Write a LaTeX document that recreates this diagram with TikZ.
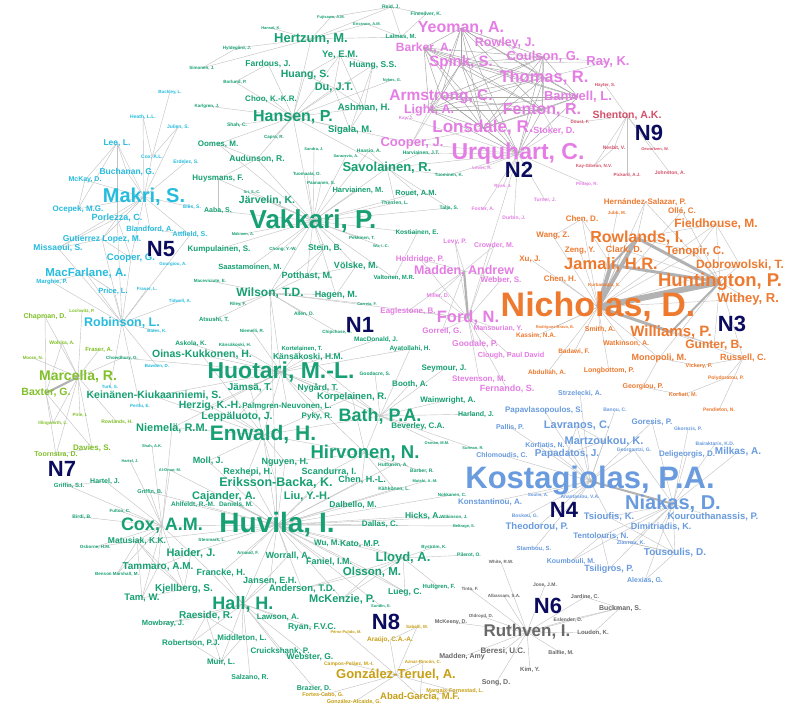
\documentclass[tikz,border=0pt]{standalone}
\usepackage{fontspec}
\setmainfont{Liberation Sans}
\definecolor{cA}{RGB}{22,160,115}
\definecolor{cB}{RGB}{228,125,228}
\definecolor{cC}{RGB}{238,122,48}
\definecolor{cD}{RGB}{105,155,222}
\definecolor{cE}{RGB}{38,188,222}
\definecolor{cF}{RGB}{105,105,105}
\definecolor{cG}{RGB}{128,192,40}
\definecolor{cH}{RGB}{200,160,20}
\definecolor{cI}{RGB}{212,80,105}
\definecolor{cN}{RGB}{12,12,95}
\pgfdeclarelayer{bg}
\pgfdeclarelayer{edges}
\pgfsetlayers{bg,edges,main}
\tikzset{
  lab/.style={inner sep=0pt,outer sep=0pt,anchor=center},
  lnk/.style={draw=black!24,line width=0.42pt},
  dlnk/.style={draw=black!36,line width=0.45pt},
  hvy/.style={draw=black!30,line width=#1},
  ntag/.style={inner sep=0pt,text=cN,font=\fontsize{22}{22}\selectfont\bfseries}
}
\newcommand\nd[6]{\node[lab,text=#1,font=\fontsize{#5}{#5}\selectfont\bfseries] (#2) at (#3,#4) {#6};}
\begin{document}
\begin{tikzpicture}[x=1pt,y=-1pt]
\useasboundingbox (0,0) rectangle (791,706);
\begin{pgfonlayer}{bg}
\fill[white] (0,0) rectangle (791,706);
\end{pgfonlayer}
% ---------------- green cluster N1
\nd{cA}{reid}{391}{7}{5}{Reid, J.}
\nd{cA}{finesilver}{426}{14}{5}{Finesilver, K.}
\nd{cA}{fujisawa}{331}{17}{4}{Fujisawa, A.M.}
\nd{cA}{ericsson}{367}{24}{4}{Ericsson, A.M.}
\nd{cA}{lalmas}{401}{37}{6}{Lalmas, M.}
\nd{cA}{harrer}{271}{28}{4}{Hansel, K.}
\nd{cA}{hertzum}{311}{39}{13}{Hertzum, M.}
\nd{cA}{hyldegard}{237}{48}{4.5}{Hyldegård, J.}
\nd{cA}{simonen}{202}{68}{4.5}{Simonen, J.}
\nd{cA}{fardous}{268}{64}{8.5}{Fardous, J.}
\nd{cA}{ye}{340}{55}{9.5}{Ye, E.M.}
\nd{cA}{huangss}{373}{65}{8.5}{Huang, S.S.}
\nd{cA}{nykes}{392}{80}{4}{Nykes, G.}
\nd{cA}{borlund}{235}{82}{4.5}{Borlund, P.}
\nd{cA}{huangs}{305}{75}{10.5}{Huang, S.}
\nd{cA}{du}{334}{88}{11}{Du, J.T.}
\nd{cA}{choo}{271}{99}{8}{Choo, K.-K.R.}
\nd{cA}{karlgren}{207}{106}{4.5}{Karlgren, J.}
\nd{cA}{ashman}{364}{108}{9.5}{Ashman, H.}
\nd{cA}{hansen}{293}{117}{16}{Hansen, P.}
\nd{cA}{shah}{237}{125}{5}{Shah, C.}
\nd{cA}{sigala}{350}{130}{9.5}{Sigala, M.}
\nd{cA}{capra}{274}{137}{4.5}{Capra, R.}
\nd{cA}{oomes}{218}{144}{8}{Oomes, M.}
\nd{cA}{sandra}{314}{149}{4}{Sandra, J.}
\nd{cA}{haasio}{369}{151}{5}{Haasio, A.}
\nd{cA}{saracevic}{346}{156}{4}{Saracevic, A.}
\nd{cA}{harviainenjt}{421}{153}{5}{Harviainen, J.T.}
\nd{cA}{audunson}{257}{159}{8.5}{Audunson, R.}
\nd{cA}{savolainen}{387}{168}{13}{Savolainen, R.}
\nd{cA}{tuominen}{449}{175}{4.5}{Tuominen, K.}
\nd{cA}{tuomaala}{307}{174}{4.5}{Tuomaala, O.}
\nd{cA}{huysmans}{218}{179}{8}{Huysmans, F.}
\nd{cA}{paananen}{321}{183}{4.5}{Paananen, S.}
\nd{cA}{harviainenm}{358}{190}{7.5}{Harviainen, M.}
\nd{cA}{rouet}{416}{193}{7.5}{Rouet, A.M.}
\nd{cA}{sri}{252}{192}{4}{Sri, S.-C.}
\nd{cA}{jarvelin}{267}{201}{10.5}{Järvelin, K.}
\nd{cA}{therrien}{395}{203}{5}{Therrien, L.}
\nd{cA}{talja}{449}{208}{5}{Talja, S.}
\nd{cA}{aaba}{218}{211}{7}{Aaba, S.}
\nd{cA}{vakkari}{313}{221}{26}{Vakkari, P.}
\nd{cA}{makinen}{243}{234}{4}{Mäkinen, A.}
\nd{cA}{pekkinen}{362}{238}{4.5}{Pekkinen, T.}
\nd{cA}{kostiainen}{417}{233}{6.5}{Kostiainen, E.}
\nd{cA}{wuic}{381}{246}{4}{Wu, I.-C.}
\nd{cA}{chong}{283}{249}{4.5}{Chong, Y.-W.}
\nd{cA}{stein}{325}{248}{8.5}{Stein, B.}
\nd{cA}{kumpulainen}{219}{249}{8}{Kumpulainen, S.}
\nd{cA}{volske}{356}{266}{9}{Völske, M.}
\nd{cA}{saastamoinen}{250}{267}{7.5}{Saastamoinen, M.}
\nd{cA}{potthast}{307}{276}{9}{Potthast, M.}
\nd{cA}{valtonen}{394}{278}{6}{Valtonen, M.R.}
\nd{cA}{maceviciute}{210}{281}{4.5}{Maceviciute, E.}
\nd{cA}{wilson}{270}{293}{12}{Wilson, T.D.}
\nd{cA}{hagen}{336}{295}{9}{Hagen, M.}
\nd{cA}{correia}{367}{304}{4}{Correia, F.}
\nd{cA}{riley}{238}{304}{4.5}{Riley, F.}
\nd{cA}{allen}{304}{314}{5}{Allen, D.}
\nd{cA}{atsushi}{214}{320}{6}{Atsushi, T.}
\nd{cA}{nimelli}{252}{331}{4.5}{Niemelli, R.}
\nd{cA}{chipchase}{337}{332}{4.5}{Chipchase, S.}
\nd{cA}{macdonald}{376}{340}{6.5}{MacDonald, J.}
\nd{cA}{askola}{191}{344}{6.5}{Askola, K.}
\nd{cA}{kansakoskih}{235}{345}{4.5}{Känsäkoski, H.}
\nd{cA}{kortelainen}{302}{349}{6}{Kortelainen, T.}
\nd{cA}{ayatollahi}{410}{349}{6.5}{Ayatollahi, H.}
\nd{cA}{oinas}{202}{355}{10.5}{Oinas-Kukkonen, H.}
\nd{cA}{kansakoskihm}{308}{357}{8.5}{Känsäkoski, H.M.}
\nd{cA}{chowdhury}{122}{358}{4.5}{Chowdhury, G.}
\nd{cA}{huotari}{281}{372}{23}{Huotari, M.-L.}
\nd{cA}{goodacre}{375}{374}{5}{Goodacre, S.}
\nd{cA}{seymour}{444}{369}{8}{Seymour, J.}
\nd{cA}{booth}{410}{384}{8}{Booth, A.}
\nd{cA}{nygard}{318}{388}{8.5}{Nygård, T.}
\nd{cA}{jamsa}{250}{388}{10}{Jämsä, T.}
\nd{cA}{keinanen}{154}{396}{10.5}{Keinänen-Kiukaanniemi, S.}
\nd{cA}{korpelainen}{352}{397}{9.5}{Korpelainen, R.}
\nd{cA}{wainwright}{448}{400}{8}{Wainwright, A.}
\nd{cA}{herzig}{210}{406}{10.5}{Herzig, K.-H.}
\nd{cA}{palmgren}{287}{406}{8}{Palmgren-Neuvonen, L.}
\nd{cA}{harland}{476}{414}{7}{Harland, J.}
\nd{cA}{pyky}{317}{416}{8}{Pyky, R.}
\nd{cA}{leppaluoto}{237}{417}{10.5}{Leppäluoto, J.}
\nd{cA}{bath}{380}{416}{18}{Bath, P.A.}
\nd{cA}{beverley}{418}{426}{8}{Beverley, C.A.}
\nd{cA}{niemela}{172}{428}{11}{Niemelä, R.M.}
\nd{cA}{enwald}{263}{435}{21}{Enwald, H.}
\nd{cA}{shahak}{152}{446}{4}{Shah, A.K.}
\nd{cA}{osman}{437}{443}{4}{Osman, M.M.}
\nd{cA}{surman}{473}{448}{4}{Surman, R.}
\nd{cA}{hirvonen}{365}{453}{18.5}{Hirvonen, N.}
\nd{cA}{hartela}{130}{461}{4}{Hartel, J.}
\nd{cA}{moll}{208}{461}{9}{Moll, J.}
\nd{cA}{alomar}{170}{470}{4}{Al-Omar, M.}
\nd{cA}{nguyen}{285}{462}{9}{Nguyen, H.}
\nd{cA}{huttunen}{393}{465}{5}{Huttunen, A.}
\nd{cA}{rexhepi}{248}{472}{9}{Rexhepi, H.}
\nd{cA}{scandurra}{329}{472}{9}{Scandurra, I.}
\nd{cA}{barber}{422}{471}{5}{Barber, R.}
\nd{cA}{hartelb}{105}{481}{7}{Hartel, J.}
\nd{cA}{erikssonbacka}{276}{483}{12.5}{Eriksson-Backa, K.}
\nd{cA}{chenhl}{362}{480}{9}{Chen, H.-L.}
\nd{cA}{mutshi}{425}{481}{4}{Mutshi, A.-M.}
\nd{cA}{griffinsi}{69}{486}{6}{Griffin, S.I.}
\nd{cA}{griffinb}{150}{492}{5.5}{Griffin, B.}
\nd{cA}{kahkonen}{394}{489}{5}{Kähkönen, L.}
\nd{cA}{cajander}{224}{497}{11}{Cajander, A.}
\nd{cA}{liu}{307}{496}{11}{Liu, Y.-H.}
\nd{cA}{nokkanen}{452}{495}{4.5}{Nokkanen, C.}
\nd{cA}{ahlfeldt}{193}{505}{6.5}{Ahlfeldt, R.-M.}
\nd{cA}{daniels}{236}{505}{6.5}{Daniels, M.}
\nd{cA}{dalbello}{353}{505}{8.5}{Dalbello, M.}
\nd{cA}{fulton}{120}{511}{4.5}{Fulton, C.}
\nd{cA}{birdi}{82}{517}{5}{Birdi, B.}
\nd{cA}{hicks}{423}{516}{8.5}{Hicks, A.}
\nd{cA}{wilkinson}{454}{517}{4.5}{Wilkinson, J.}
\nd{cA}{dallas}{380}{524}{8}{Dallas, C.}
\nd{cA}{beltrage}{464}{526}{4}{Beltrage, S.}
\nd{cA}{cox}{162}{526}{18}{Cox, A.M.}
\nd{cA}{huvila}{277}{525}{28}{Huvila, I.}
\nd{cA}{matusiak}{137}{541}{8.5}{Matusiak, K.K.}
\nd{cA}{osborne}{95}{547}{4.5}{Osborne, H.M.}
\nd{cA}{stenmark}{212}{540}{4.5}{Stenmark, L.}
\nd{cA}{wum}{327}{543}{8}{Wu, M.}
\nd{cA}{kato}{360}{544}{8.5}{Kato, M.P.}
\nd{cA}{bystrom}{434}{547}{4.5}{Byström, K.}
\nd{cA}{haider}{191}{553}{11}{Haider, J.}
\nd{cA}{arnaud}{248}{553}{4.5}{Arnaud, F.}
\nd{cA}{pilerot}{469}{555}{5}{Pilerot, O.}
\nd{cA}{worrall}{288}{556}{9}{Worrall, A.}
\nd{cA}{lloyd}{403}{558}{13}{Lloyd, A.}
\nd{cA}{faniel}{329}{562}{9}{Faniel, I.M.}
\nd{cA}{tammaro}{158}{567}{10}{Tammaro, A.M.}
\nd{cA}{olsson}{372}{572}{11.5}{Olsson, M.}
\nd{cA}{bensonmarshall}{117}{574}{4.5}{Benson Marshall, M.}
\nd{cA}{francke}{221}{573}{9}{Francke, H.}
\nd{cA}{jansen}{270}{581}{9}{Jansen, E.H.}
\nd{cA}{hultgren}{439}{587}{6}{Hultgren, F.}
\nd{cA}{anderson}{302}{589}{9.5}{Anderson, T.D.}
\nd{cA}{kjellberg}{184}{589}{10}{Kjellberg, S.}
\nd{cA}{lueg}{405}{592}{8.5}{Lueg, C.}
\nd{cA}{tam}{142}{598}{9.5}{Tam, W.}
\nd{cA}{mckenzie}{342}{599}{11}{McKenzie, P.}
\nd{cA}{sundin}{381}{606}{4}{Sundin, E.}
\nd{cA}{hall}{243}{604}{18}{Hall, H.}
\nd{cA}{raeside}{206}{616}{10}{Raeside, R.}
\nd{cA}{lawson}{278}{617}{8}{Lawson, A.}
\nd{cA}{mowbray}{163}{624}{7.5}{Mowbray, J.}
\nd{cA}{ryanfvc}{312}{627}{8.5}{Ryan, F.V.C.}
\nd{cA}{middleton}{242}{638}{8}{Middleton, L.}
\nd{cA}{robertson}{191}{643}{8}{Robertson, P.J.}
\nd{cA}{cruickshank}{280}{651}{8}{Cruickshank, P.}
\nd{cA}{webster}{310}{657}{8.5}{Webster, G.}
\nd{cA}{muir}{221}{662}{8}{Muir, L.}
\nd{cA}{salzano}{250}{677}{7}{Salzano, R.}
\nd{cA}{brazier}{314}{688}{7}{Brazier, D.}
% ---------------- pink cluster N2
\nd{cB}{yeoman}{461}{28}{16}{Yeoman, A.}
\nd{cB}{barker}{424}{48}{12}{Barker, A.}
\nd{cB}{rowley}{505}{43}{12.5}{Rowley, J.}
\nd{cB}{spink}{461}{63}{15}{Spink, S.}
\nd{cB}{coulson}{543}{57}{13}{Coulson, G.}
\nd{cB}{ray}{608}{62}{13}{Ray, K.}
\nd{cB}{thomas}{544}{78}{16.5}{Thomas, R.}
\nd{cB}{banwell}{578}{97}{13}{Banwell, L.}
\nd{cB}{armstrong}{441}{97}{15.5}{Armstrong, C.}
\nd{cB}{fenton}{542}{110}{16}{Fenton, R.}
\nd{cB}{light}{429}{110}{12.5}{Light, A.}
\nd{cB}{kay}{406}{118}{4.5}{Kay, J.}
\nd{cB}{lonsdale}{483}{128}{17}{Lonsdale, R.}
\nd{cB}{stoker}{554}{131}{9}{Stoker, D.}
\nd{cB}{urquhart}{518}{154}{23}{Urquhart, C.}
\nd{cB}{cooperj}{412}{143}{13}{Cooper, J.}
\nd{cB}{lewis}{482}{168}{4.5}{Lewis, R.}
\nd{cB}{ryanj}{503}{186}{4.5}{Ryan, J.}
\nd{cB}{pihlajo}{587}{184}{4.5}{Pihlajo, R.}
\nd{cB}{turner}{545}{200}{5}{Turner, J.}
\nd{cB}{foster}{483}{209}{5}{Foster, A.}
\nd{cB}{durbin}{514}{218}{5}{Durbin, J.}
\nd{cB}{levy}{455}{242}{6.5}{Levy, P.}
\nd{cB}{crowder}{494}{246}{7}{Crowder, M.}
\nd{cB}{holdridge}{420}{259}{8}{Holdridge, P.}
\nd{cB}{madden}{464}{271}{12.5}{Madden, Andrew}
\nd{cB}{webber}{501}{280}{8}{Webber, S.}
\nd{cB}{miller}{438}{296}{5.5}{Miller, D.}
\nd{cB}{eaglestone}{408}{311}{8}{Eaglestone, B.}
\nd{cB}{ford}{468}{318}{16.5}{Ford, N.}
\nd{cB}{mansourian}{498}{329}{7}{Mansourian, Y.}
\nd{cB}{gorrell}{442}{331}{8}{Gorrell, G.}
\nd{cB}{goodale}{475}{344}{8.5}{Goodale, P.}
\nd{cB}{clough}{511}{356}{7.3}{Clough, Paul David}
\nd{cB}{stevenson}{479}{379}{8}{Stevenson, M.}
\nd{cB}{fernando}{507}{389}{9}{Fernando, S.}
% ---------------- orange cluster N3
\nd{cC}{hernandez}{645}{202}{8}{Hernández-Salazar, P.}
\nd{cC}{jubb}{617}{213}{4.5}{Jubb, M.}
\nd{cC}{olle}{682}{211}{8}{Ollé, C.}
\nd{cC}{chend}{582}{219}{8}{Chen, D.}
\nd{cC}{fieldhouse}{716}{224}{12}{Fieldhouse, M.}
\nd{cC}{wang}{553}{236}{8}{Wang, Z.}
\nd{cC}{rowlands}{637}{238}{16}{Rowlands, I.}
\nd{cC}{zeng}{580}{251}{8}{Zeng, Y.}
\nd{cC}{clark}{624}{250}{9}{Clark, D.}
\nd{cC}{tenopir}{695}{252}{11.5}{Tenopir, C.}
\nd{cC}{xu}{530}{259}{8}{Xu, J.}
\nd{cC}{jamali}{611}{265}{16.5}{Jamali, H.R.}
\nd{cC}{dobrowolski}{740}{265}{12}{Dobrowolski, T.}
\nd{cC}{chenh}{560}{279}{8}{Chen, H.}
\nd{cC}{kurbanoglu}{604}{285}{4.5}{Kurbanoglu, S.}
\nd{cC}{huntington}{720}{282}{18.5}{Huntington, P.}
\nd{cC}{withey}{748}{299}{13}{Withey, R.}
\nd{cC}{nicholas}{598}{307}{34}{Nicholas, D.}
\nd{cC}{williams}{671}{332}{15}{Williams, P.}
\nd{cC}{rodriguez}{555}{327}{4}{Rodríguez-Bravo, B.}
\nd{cC}{smith}{600}{330}{7}{Smith, A.}
\nd{cC}{kassim}{536}{336}{6.5}{Kassim, N.A.}
\nd{cC}{watkinson}{626}{344}{7}{Watkinson, A.}
\nd{cC}{gunter}{714}{345}{12}{Gunter, B.}
\nd{cC}{badawi}{574}{352}{6.5}{Badawi, F.}
\nd{cC}{russell}{743}{358}{9}{Russell, C.}
\nd{cC}{monopoli}{659}{358}{9}{Monopoli, M.}
\nd{cC}{vickery}{699}{366}{5.5}{Vickery, P.}
\nd{cC}{abdullah}{547}{373}{6.5}{Abdullah, A.}
\nd{cC}{longbottom}{609}{371}{7}{Longbottom, P.}
\nd{cC}{polydoratou}{726}{378}{5}{Polydoratou, P.}
\nd{cC}{georgiou}{643}{387}{7}{Georgiou, P.}
\nd{cC}{korfiati}{683}{395}{5.5}{Korfiati, M.}
\nd{cC}{pendleton}{719}{410}{5}{Pendleton, N.}
% ---------------- blue cluster N4
\nd{cD}{strzelecki}{580}{393}{7}{Strzelecki, A.}
\nd{cD}{papavlasopoulos}{544}{410}{8}{Papavlasopoulos, S.}
\nd{cD}{banou}{615}{410}{5}{Banou, C.}
\nd{cD}{lavranos}{577}{426}{11}{Lavranos, C.}
\nd{cD}{goresis}{652}{422}{8}{Goresis, P.}
\nd{cD}{gkorezis}{688}{429}{5}{Gkorezis, P.}
\nd{cD}{pallis}{510}{427}{7}{Pallis, P.}
\nd{cD}{korfiatis}{545}{445}{7}{Korfiatis, N.}
\nd{cD}{martzoukou}{604}{441}{11}{Martzoukou, K.}
\nd{cD}{bairaktaris}{715}{444}{5}{Bairaktaris, K.D.}
\nd{cD}{georgantzi}{634}{450}{5}{Georgantzi, G.}
\nd{cD}{deligeorgis}{687}{454}{8}{Deligeorgis, D.}
\nd{cD}{milkas}{738}{452}{10}{Milkas, A.}
\nd{cD}{papadatos}{567}{454}{10}{Papadatos, J.}
\nd{cD}{chlomoudis}{502}{455}{7}{Chlomoudis, C.}
\nd{cD}{kostagiolas}{590}{481}{31}{Kostagiolas, P.A.}
\nd{cD}{soulis}{538}{495}{4.5}{Soulis, A.}
\nd{cD}{konstantinou}{490}{502}{8}{Konstantinou, A.}
\nd{cD}{anastasiou}{580}{497}{5}{Anastasiou, V.A.}
\nd{cD}{niakas}{673}{504}{20}{Niakas, D.}
\nd{cD}{boskou}{525}{516}{5}{Boskou, G.}
\nd{cD}{tsioufis}{609}{517}{9.5}{Tsioufis, K.}
\nd{cD}{kourouthanassis}{713}{517}{9.5}{Kourouthanassis, P.}
\nd{cD}{theodorou}{537}{527}{9.5}{Theodorou, P.}
\nd{cD}{dimitriadis}{661}{527}{9}{Dimitriadis, K.}
\nd{cD}{tentolouris}{601}{536}{8}{Tentolouris, N.}
\nd{cD}{ziavrou}{631}{543}{5.5}{Ziavrou, K.}
\nd{cD}{stambou}{534}{549}{6}{Stambou, S.}
\nd{cD}{tousoulis}{675}{553}{10}{Tousoulis, D.}
\nd{cD}{koumbouli}{571}{561}{7}{Koumbouli, M.}
\nd{cD}{tsiligros}{609}{569}{9}{Tsiligros, P.}
\nd{cD}{alexias}{645}{580}{7}{Alexias, G.}
% ---------------- cyan cluster N5
\nd{cE}{buckley}{170}{92}{4.5}{Buckley, L.}
\nd{cE}{heath}{143}{117}{5}{Heath, L.L.}
\nd{cE}{julien}{178}{127}{5}{Julien, S.}
\nd{cE}{lee}{117}{143}{8.5}{Lee, L.}
\nd{cE}{coxal}{152}{157}{5}{Cox, A.L.}
\nd{cE}{erdelez}{186}{162}{5}{Erdelez, S.}
\nd{cE}{buchanan}{127}{172}{8.5}{Buchanan, G.}
\nd{cE}{mckay}{85}{180}{7}{McKay, D.}
\nd{cE}{makri}{144}{197}{20}{Makri, S.}
\nd{cE}{ellis}{192}{207}{5}{Ellis, S.}
\nd{cE}{ocepek}{78}{209}{8}{Ocepek, M.G.}
\nd{cE}{porlezza}{117}{218}{9}{Porlezza, C.}
\nd{cE}{blandford}{150}{229}{7.5}{Blandford, A.}
\nd{cE}{attfield}{190}{235}{7}{Attfield, S.}
\nd{cE}{gutierrez}{102}{239}{8.5}{Gutierrez Lopez, M.}
\nd{cE}{missaoui}{58}{248}{8.5}{Missaoui, S.}
\nd{cE}{cooperg}{131}{258}{9.5}{Cooper, G.}
\nd{cE}{gourgiou}{173}{264}{4.5}{Gourgiou, A.}
\nd{cE}{macfarlane}{86}{273}{11.5}{MacFarlane, A.}
\nd{cE}{marghie}{52}{282}{6}{Marghie, P.}
\nd{cE}{fraserl}{147}{289}{4.5}{Fraser, L.}
\nd{cE}{price}{113}{291}{7.5}{Price, L.}
\nd{cE}{tidwell}{180}{301}{4.5}{Tidwell, A.}
\nd{cE}{robinson}{122}{323}{12.5}{Robinson, L.}
\nd{cE}{bates}{157}{331}{4.5}{Bates, K.}
\nd{cE}{bawden}{157}{366}{4.5}{Bawden, D.}
\nd{cE}{turk}{110}{387}{4.5}{Turk, S.}
\nd{cE}{perttu}{140}{406}{4.5}{Perttu, E.}
% ---------------- lime cluster N7
\nd{cG}{lochwitz}{82}{311}{4.5}{Lochwitz, P.}
\nd{cG}{chapman}{45}{317}{7}{Chapman, D.}
\nd{cG}{wolska}{62}{343}{5}{Wolska, A.}
\nd{cG}{frasera}{99}{350}{6}{Fraser, A.}
\nd{cG}{moore}{33}{358}{4.5}{Moore, N.}
\nd{cG}{marcella}{78}{377}{14}{Marcella, R.}
\nd{cG}{baxter}{46}{393}{10.5}{Baxter, G.}
\nd{cG}{pirie}{80}{415}{4.5}{Pirie, I.}
\nd{cG}{illingworth}{53}{423}{4.5}{Illingworth, L.}
\nd{cG}{rowlandsh}{117}{422}{5}{Rowlands, H.}
\nd{cG}{davies}{92}{448}{8}{Davies, S.}
\nd{cG}{toornstra}{56}{455}{7}{Toornstra, D.}
% ---------------- gray cluster N6
\nd{cF}{white}{501}{562}{4.5}{White, R.W.}
\nd{cF}{tinto}{470}{589}{4.5}{Tinto, F.}
\nd{cF}{albassam}{504}{596}{4.5}{Albassam, S.A.}
\nd{cF}{jose}{545}{585}{5}{Jose, J.M.}
\nd{cF}{jardine}{585}{597}{5.5}{Jardine, C.}
\nd{cF}{buckman}{620}{608}{7}{Buckman, S.}
\nd{cF}{oldroyd}{481}{616}{4.5}{Oldroyd, D.}
\nd{cF}{eslender}{568}{620}{5}{Eslender, D.}
\nd{cF}{mckeeny}{451}{622}{5.5}{McKeeny, D.}
\nd{cF}{ruthven}{527}{632}{17}{Ruthven, I.}
\nd{cF}{loudon}{593}{633}{6}{Loudon, K.}
\nd{cF}{beresi}{503}{651}{8}{Beresi, U.C.}
\nd{cF}{baillie}{561}{653}{5.5}{Baillie, M.}
\nd{cF}{maddenamy}{462}{657}{7}{Madden, Amy}
\nd{cF}{kim}{530}{670}{6}{Kim, Y.}
\nd{cF}{song}{496}{683}{7}{Song, D.}
% ---------------- gold cluster N8
\nd{cH}{sabelli}{417}{627}{4.5}{Sabelli, M.}
\nd{cH}{perezpulido}{346}{632}{4}{Pérez-Pulido, M.}
\nd{cH}{araujo}{390}{640}{6.5}{Araújo, C.A.-A.}
\nd{cH}{campos}{349}{664}{5}{Campos-Peláez, M.-I.}
\nd{cH}{aznar}{423}{662}{4.5}{Aznar-Rincón, C.}
\nd{cH}{gonzalezteruel}{396}{675}{13}{González-Teruel, A.}
\nd{cH}{margaix}{455}{691}{5.5}{Margaix-Fornestad, L.}
\nd{cH}{fortescabo}{323}{695}{5.5}{Fortes-Cabo, G.}
\nd{cH}{abadgarcia}{420}{697}{9.5}{Abad-García, M.F.}
\nd{cH}{gonzalezalcaide}{354}{702}{5.5}{González-Alcaide, G.}
% ---------------- red cluster N9
\nd{cI}{shenton}{627}{116}{10.5}{Shenton, A.K.}
\nd{cI}{hayter}{605}{85}{4.5}{Hayter, S.}
\nd{cI}{doust}{580}{122}{4.5}{Doust, F.}
\nd{cI}{nesbit}{614}{148}{5}{Nesbit, V.}
\nd{cI}{gewurtzen}{655}{149}{4}{Gewurtzen, W.}
\nd{cI}{kaygibson}{594}{166}{4.5}{Kay-Gibson, N.V.}
\nd{cI}{pickard}{627}{175}{4.5}{Pickard, A.J.}
\nd{cI}{johnston}{670}{173}{5}{Johnston, A.}
% ---------------- cluster tags
\node[ntag] (n1) at (360,325) {N1};
\node[ntag] (n2) at (519,170) {N2};
\node[ntag] (n3) at (732,324) {N3};
\node[ntag] (n4) at (564,510) {N4};
\node[ntag] (n5) at (161,249) {N5};
\node[ntag] (n6) at (548,606) {N6};
\node[ntag] (n7) at (62,469) {N7};
\node[ntag] (n8) at (386,622) {N8};
\node[ntag] (n9) at (649,133) {N9};
% ---------------- connectors
\begin{pgfonlayer}{edges}
\newcommand\hub[2]{\foreach \b in {#2} \draw[lnk] (#1.center) -- (\b.center);}
\newcommand\prs[1]{\foreach \a/\b in {#1} \draw[lnk] (\a.center) -- (\b.center);}
% N1
\hub{hansen}{hertzum,ye,huangs,huangss,du,ashman,sigala,choo,fardous,capra,karlgren,shah,borlund,oomes,savolainen,audunson,nykes,cooperj}
\prs{ye/huangss,ye/du,ye/ashman,ye/huangs,du/ashman,du/sigala,huangss/sigala,huangss/ashman,huangs/du,sigala/ashman}
\hub{hertzum}{fujisawa,ericsson,reid,harrer,hyldegard,simonen,lalmas}
\prs{reid/finesilver,reid/lalmas,ericsson/lalmas,lalmas/finesilver,fujisawa/reid,hyldegard/simonen,borlund/fardous}
\hub{vakkari}{harviainenm,rouet,savolainen,jarvelin,stein,volske,potthast,hagen,wilson,pekkinen,kostiainen,wuic,chong,kumpulainen,saastamoinen,tuomaala,huysmans,aaba,audunson,oomes,talja,therrien,makinen,sri,paananen,sandra,haasio,saracevic,hansen,valtonen}
\hub{wilson}{riley,maceviciute,allen,hagen,chipchase,atsushi,huotari,ford,potthast,stein,correia,huvila}
\hub{savolainen}{talja,harviainenjt,tuominen,haasio,rouet,therrien,urquhart}
\prs{oomes/audunson,huysmans/aaba,huysmans/audunson,stein/potthast,volske/hagen,volske/potthast,kostiainen/valtonen}
\hub{huotari}{enwald,jamsa,nygard,korpelainen,herzig,leppaluoto,palmgren,keinanen,oinas,niemela,hirvonen,pyky,kansakoskihm,kansakoskih,askola,bath,kortelainen,nimelli,macdonald,chowdhury,ayatollahi}
\hub{enwald}{hirvonen,bath,huvila,moll,nguyen,rexhepi,erikssonbacka,keinanen,herzig,leppaluoto,jamsa,korpelainen,niemela,oinas}
\hub{hirvonen}{bath,korpelainen,nguyen,huttunen,barber,scandurra,chenhl,kahkonen}
\hub{bath}{booth,goodacre,seymour,wainwright,harland,beverley,kansakoskihm,korpelainen,osman,surman,ayatollahi}
\hub{huvila}{cox,hall,erikssonbacka,cajander,scandurra,liu,rexhepi,ahlfeldt,daniels,moll,dalbello,dallas,hicks,chenhl,kahkonen,worrall,faniel,kato,wum,lloyd,olsson,jansen,francke,haider,arnaud,anderson,mckenzie,lueg,stenmark,nokkanen,huttunen,nguyen,griffinb,alomar,matusiak,wilkinson,beltrage,mutshi,sundin}
\hub{cox}{matusiak,haider,tammaro,kjellberg,tam,bensonmarshall,osborne,birdi,fulton,griffinb,hartelb,hartela,alomar,griffinsi,niemela,shahak}
\prs{matusiak/tammaro,matusiak/kjellberg,matusiak/tam,matusiak/bensonmarshall,matusiak/osborne,tammaro/kjellberg,tam/kjellberg,tam/tammaro,haider/kjellberg,haider/tammaro,hartelb/griffinsi}
\hub{hall}{raeside,mowbray,robertson,middleton,muir,salzano,cruickshank,webster,lawson,ryanfvc,brazier,francke,haider,jansen,worrall}
\prs{raeside/mowbray,raeside/robertson,raeside/middleton,raeside/muir,middleton/muir,robertson/muir}
\hub{lloyd}{olsson,lueg,hultgren,bystrom,pilerot,mckenzie,anderson,kato}
\prs{olsson/mckenzie,olsson/lueg,olsson/anderson}
% N2
\foreach \a [count=\i] in {yeoman,spink,armstrong,thomas,fenton,lonsdale,urquhart,coulson,barker,light,banwell}{
  \foreach \b [count=\j] in {yeoman,spink,armstrong,thomas,fenton,lonsdale,urquhart,coulson,barker,light,banwell}{
    \ifnum\j>\i \draw[dlnk] (\a.center) -- (\b.center);\fi}}
\prs{rowley/yeoman,rowley/spink,rowley/thomas,ray/coulson,ray/thomas,ray/spink,stoker/urquhart,stoker/fenton,cooperj/armstrong,cooperj/urquhart,cooperj/lonsdale,cooperj/light,kay/urquhart,kay/armstrong}
\hub{urquhart}{lewis,ryanj,durbin,turner,pihlajo,foster,harviainenjt,tuominen,ford}
\hub{ford}{levy,crowder,holdridge,webber,eaglestone,gorrell,miller,mansourian,goodale,clough,stevenson,fernando}
\hub{madden}{levy,crowder,holdridge,webber,eaglestone,miller,gorrell}
\draw[hvy=2.2pt] (madden.center) -- (ford.center);
% N3
\hub{nicholas}{dobrowolski,withey,gunter,tenopir,clark,chend,wang,zeng,xu,chenh,kassim,rodriguez,smith,watkinson,badawi,abdullah,longbottom,monopoli,hernandez,jubb,olle,fieldhouse,kurbanoglu,russell}
\hub{huntington}{dobrowolski,withey,gunter,tenopir,fieldhouse,olle,hernandez,clark,russell,monopoli}
\prs{rowlands/fieldhouse,tenopir/fieldhouse,dobrowolski/fieldhouse,hernandez/rowlands,chend/wang,chend/jamali,monopoli/georgiou,monopoli/vickery,russell/pendleton,russell/polydoratou,korfiati/georgiou,vickery/russell,polydoratou/korfiati,jamali/clark,rowlands/clark,tenopir/rowlands,williams/gunter}
\draw[hvy=6pt] (nicholas.center) -- (huntington.center);
\draw[hvy=4pt] (nicholas.center) -- (jamali.center);
\draw[hvy=4pt] (nicholas.center) -- (rowlands.center);
\draw[hvy=3pt] (huntington.center) -- (rowlands.center);
\draw[hvy=3pt] (huntington.center) -- (jamali.center);
\draw[hvy=3pt] (nicholas.center) -- (williams.center);
\draw[hvy=2pt] (williams.center) -- (huntington.center);
\draw[hvy=2pt] (rowlands.center) -- (jamali.center);
% N4
\hub{kostagiolas}{lavranos,martzoukou,papadatos,korfiatis,strzelecki,papavlasopoulos,pallis,chlomoudis,konstantinou,soulis,boskou,theodorou,tsioufis,anastasiou,banou,goresis,georgantzi,stambou}
\hub{niakas}{milkas,deligeorgis,bairaktaris,gkorezis,goresis,kourouthanassis,dimitriadis,tsioufis,tentolouris,tousoulis,ziavrou,tsiligros,alexias,koumbouli,georgantzi}
\prs{tousoulis/tentolouris,tousoulis/ziavrou,tousoulis/dimitriadis,tousoulis/tsioufis,tousoulis/alexias,tentolouris/tsiligros,koumbouli/tentolouris,lavranos/martzoukou,lavranos/papadatos,martzoukou/papadatos}
\draw[hvy=2pt] (kostagiolas.center) -- (niakas.center);
% N5
\hub{makri}{mckay,ocepek,porlezza,blandford,attfield,ellis,gutierrez,cooperg,missaoui,buchanan,lee,coxal,julien,heath,erdelez}
\prs{lee/buchanan,lee/ocepek,lee/mckay,lee/porlezza,buckley/coxal,heath/coxal,julien/coxal,porlezza/gutierrez,porlezza/cooperg,porlezza/missaoui,blandford/attfield,gutierrez/cooperg,missaoui/gutierrez,ocepek/mckay}
\hub{robinson}{macfarlane,price,bawden,fraserl,tidwell,gutierrez,porlezza,marghie,bates,cooperg,turk,perttu,missaoui,attfield}
\prs{macfarlane/price,macfarlane/marghie}
% N7
\hub{marcella}{moore,chapman,wolska,frasera,illingworth,pirie,davies,toornstra,rowlandsh,chowdhury,lochwitz}
\prs{baxter/chapman,baxter/illingworth,baxter/toornstra,baxter/davies,baxter/wolska,davies/toornstra}
\draw[hvy=2.2pt] (marcella.center) -- (baxter.center);
% N6
\hub{ruthven}{jose,jardine,buckman,eslender,loudon,baillie,kim,beresi,song,maddenamy,white,albassam,tinto,oldroyd,mckeeny}
\prs{jardine/buckman,buckman/eslender,buckman/loudon}
% N8
\hub{gonzalezteruel}{abadgarcia,araujo,sabelli,perezpulido,campos,aznar,fortescabo,gonzalezalcaide,margaix}
\prs{abadgarcia/margaix,abadgarcia/aznar,araujo/sabelli}
% N9
\hub{shenton}{nesbit,gewurtzen,johnston,pickard,kaygibson,hayter,doust}
\prs{doust/fenton,nesbit/kaygibson}
\end{pgfonlayer}
\end{tikzpicture}
\end{document}
